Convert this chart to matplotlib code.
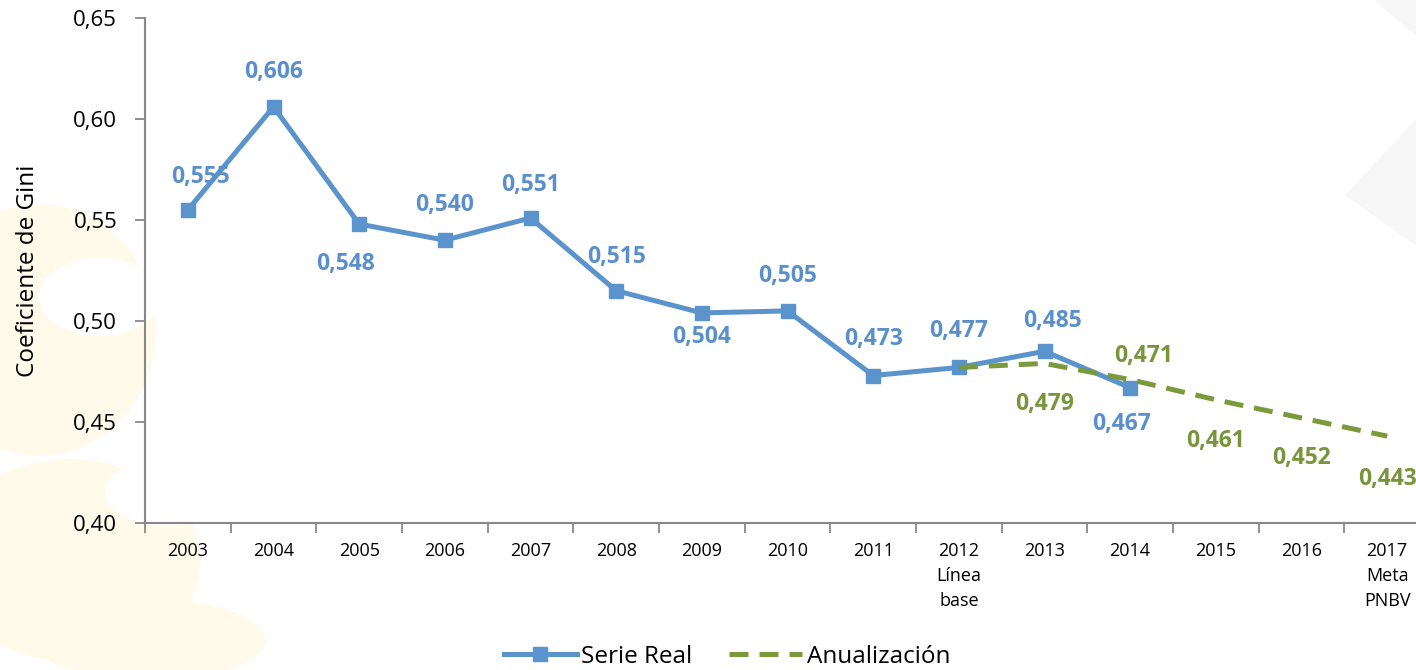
import numpy as np
import matplotlib.pyplot as plt
from matplotlib.patches import Ellipse, Polygon

# data
years = ["2003", "2004", "2005", "2006", "2007", "2008", "2009", "2010",
         "2011", "2012\nLínea\nbase", "2013", "2014", "2015", "2016", "2017\nMeta\nPNBV"]
serie_real = [0.555, 0.606, 0.548, 0.540, 0.551, 0.515, 0.504, 0.505,
              0.473, 0.477, 0.485, 0.467]
anualizacion = [0.477, 0.479, 0.471, 0.461, 0.452, 0.443]
anual_start = 9

# label offsets in points (dx, dy)
real_offsets = [(9, 24), (0, 25), (-10, -29), (0, 25), (0, 24), (0, 24), (0, -17),
                (0, 25), (0, 26), (0, 26), (6, 22), (-6, -26)]
anual_offsets = [None, (0, -29), (10, 17), (0, -30), (0, -29), (0, -31)]

blue = "#5B93CD"
green = "#7B9A3C"
blue_txt = "#5A8FCB"
green_txt = "#77953A"

plt.rcParams['font.family'] = ['Open Sans', 'DejaVu Sans']

fig = plt.figure(figsize=(14.16, 6.70), dpi=100)

# faint background decorations
W, H = 1416, 670
def fx(x): return x / W
def fy(y): return 1 - y / H
yel = "#FFFAEA"
for cx, cy, w, h in [(40, 330, 230, 250), (70, 560, 260, 200), (150, 640, 230, 80)]:
    fig.patches.append(Ellipse((fx(cx), fy(cy)), w / W, h / H, color=yel,
                               transform=fig.transFigure, zorder=-2))
for cx, cy, w, h in [(100, 297, 120, 77), (167, 492, 123, 67)]:
    fig.patches.append(Ellipse((fx(cx), fy(cy)), w / W, h / H, color="white",
                               transform=fig.transFigure, zorder=-1))
gray = "#F7F7F7"
fig.patches.append(Polygon([(fx(1375), fy(0)), (fx(1416), fy(0)), (fx(1416), fy(35))],
                           color=gray, transform=fig.transFigure, zorder=-2))
fig.patches.append(Polygon([(fx(1346), fy(195)), (fx(1416), fy(120)), (fx(1416), fy(245))],
                           color=gray, transform=fig.transFigure, zorder=-2))

ax = fig.add_axes([145 / W, 1 - 523 / H, 1285 / W, 505 / H])
ax.set_facecolor("none")
ax.set_zorder(1)

x = np.arange(len(years))
xr = x[:len(serie_real)]
xa = x[anual_start:anual_start + len(anualizacion)]

ax.plot(xr, serie_real, color=blue, lw=3.6, marker="s", markersize=10.5,
        label="Serie Real", zorder=3)
ax.plot(xa, anualizacion, color=green, lw=3.6, ls=(0, (3.8, 2.2)),
        label="Anualización", zorder=4)

for xi, v, (dx, dy) in zip(xr, serie_real, real_offsets):
    ax.annotate(f"{v:.3f}".replace(".", ","), (xi, v), xytext=(dx, dy),
                textcoords="offset points", ha="center", va="center",
                fontsize=16.5, fontweight="bold", color=blue_txt, zorder=5)
for xi, v, off in zip(xa, anualizacion, anual_offsets):
    if off is None:
        continue
    dx, dy = off
    ax.annotate(f"{v:.3f}".replace(".", ","), (xi, v), xytext=(dx, dy),
                textcoords="offset points", ha="center", va="center",
                fontsize=16.5, fontweight="bold", color=green_txt, zorder=5)

ax.set_xlim(-0.5, len(years) - 0.5)
ax.set_ylim(0.40, 0.65)
ax.set_yticks(np.arange(0.40, 0.651, 0.05))
ax.set_yticklabels([f"{t:.2f}".replace(".", ",") for t in np.arange(0.40, 0.651, 0.05)],
                   fontsize=16)
ax.set_xticks(x)
ax.set_xticklabels(years, fontsize=13, linespacing=1.5, va="top")
ax.set_xticks(np.arange(-0.5, len(years), 1), minor=True)
ax.tick_params(axis="x", which="major", length=0, pad=14)
ax.tick_params(axis="x", which="minor", length=7, width=1.3, color="#888888", direction="out")
ax.tick_params(axis="y", length=7, width=1.3, color="#888888", pad=13)

for s in ["top", "right"]:
    ax.spines[s].set_visible(False)
for s in ["left", "bottom"]:
    ax.spines[s].set_color("#888888")
    ax.spines[s].set_linewidth(1.5)

ax.set_ylabel("Coeficiente de Gini", fontsize=17.5)
ax.yaxis.set_label_coords(-105 / 1285, 0.5)

fig.legend(loc="center", bbox_to_anchor=(727 / W, 1 - 657 / H), ncol=2,
           frameon=False, fontsize=17.5, handlelength=3.0, columnspacing=1.5,
           handletextpad=0.2)

fig.savefig("out.png", dpi=100)
